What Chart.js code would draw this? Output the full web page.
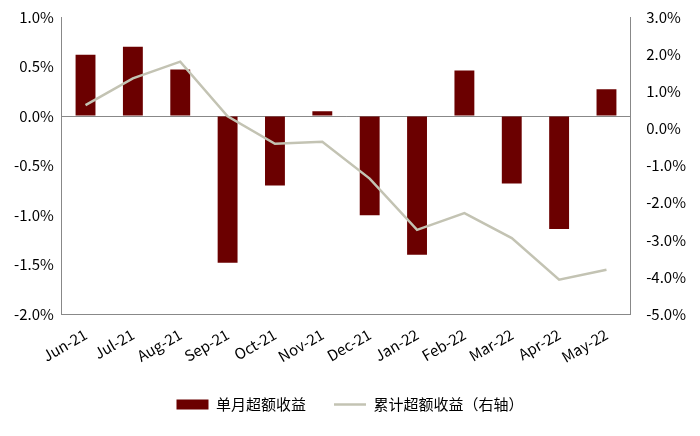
<!DOCTYPE html>
<html>
<head>
<meta charset="utf-8">
<script src="https://cdn.jsdelivr.net/npm/chart.js@4"></script>
<style>
  body { margin: 0; background: #fff; }
  #wrap { width: 700px; height: 436px; }
</style>
</head>
<body>
<div id="wrap"><canvas id="myChart"></canvas></div>
<script>
const months = ['Jun-21', 'Jul-21', 'Aug-21', 'Sep-21', 'Oct-21', 'Nov-21', 'Dec-21', 'Jan-22', 'Feb-22', 'Mar-22', 'Apr-22', 'May-22'];
const monthly = [0.62, 0.70, 0.47, -1.48, -0.70, 0.05, -1.00, -1.40, 0.46, -0.68, -1.14, 0.27];
const cumulative = [0.63, 1.35, 1.80, 0.33, -0.41, -0.36, -1.35, -2.73, -2.28, -2.95, -4.07, -3.80];

const font = { family: "'Noto Sans CJK SC', 'Noto Sans', sans-serif", size: 15 };
const lineColor = '#c3c3b3';
Chart.defaults.color = '#000';

// draw the legend sample of the line series as a short line
const legendLine = {
  id: 'legendLine',
  afterDraw(chart) {
    const lg = chart.legend;
    const idx = lg.legendItems.findIndex((it) => it.datasetIndex === 0);
    const box = lg.legendHitBoxes[idx];
    if (!box) return;
    const ctx = chart.ctx;
    const y = box.top + box.height / 2;
    ctx.save();
    ctx.strokeStyle = lineColor;
    ctx.lineWidth = 2.5;
    ctx.beginPath();
    ctx.moveTo(box.left, y);
    ctx.lineTo(box.left + 32, y);
    ctx.stroke();
    ctx.restore();
  }
};

new Chart(document.getElementById('myChart'), {
  data: {
    labels: months,
    datasets: [
      {
        type: 'line',
        label: '累计超额收益（右轴）',
        data: cumulative,
        yAxisID: 'y1',
        borderColor: lineColor,
        backgroundColor: lineColor,
        borderWidth: 2.5,
        pointRadius: 0,
        tension: 0,
        order: 0
      },
      {
        type: 'bar',
        label: '单月超额收益',
        data: monthly,
        yAxisID: 'y',
        backgroundColor: '#6b0000',
        categoryPercentage: 0.42,
        barPercentage: 1,
        order: 1
      }
    ]
  },
  options: {
    responsive: true,
    maintainAspectRatio: false,
    animation: false,
    layout: { padding: { left: 6, right: 6, top: 15, bottom: 14 } },
    plugins: {
      legend: {
        position: 'bottom',
        reverse: true,
        labels: {
          font: font,
          boxWidth: 32,
          boxHeight: 10,
          padding: 28,
          generateLabels: (chart) => {
            const items = Chart.defaults.plugins.legend.labels.generateLabels(chart);
            items.forEach((it) => {
              if (it.datasetIndex === 0) { it.lineWidth = 0; it.fillStyle = 'rgba(0,0,0,0)'; }
            });
            return items;
          }
        }
      },
      tooltip: { enabled: false }
    },
    scales: {
      x: {
        grid: { display: false },
        border: { color: '#888' },
        ticks: { font: font, maxRotation: 30, minRotation: 30 }
      },
      y: {
        position: 'left',
        min: -2, max: 1,
        grid: {
          drawTicks: false,
          color: (ctx) => ctx.tick.value === 0 ? '#888' : 'rgba(0,0,0,0)'
        },
        border: { color: '#888' },
        ticks: { stepSize: 0.5, font: font, padding: 8, callback: (v) => v.toFixed(1) + '%' }
      },
      y1: {
        position: 'right',
        min: -5, max: 3,
        grid: { display: false },
        border: { color: '#888' },
        ticks: { stepSize: 1, font: font, padding: 8, callback: (v) => v.toFixed(1) + '%' }
      }
    }
  },
  plugins: [legendLine]
});
</script>
</body>
</html>
